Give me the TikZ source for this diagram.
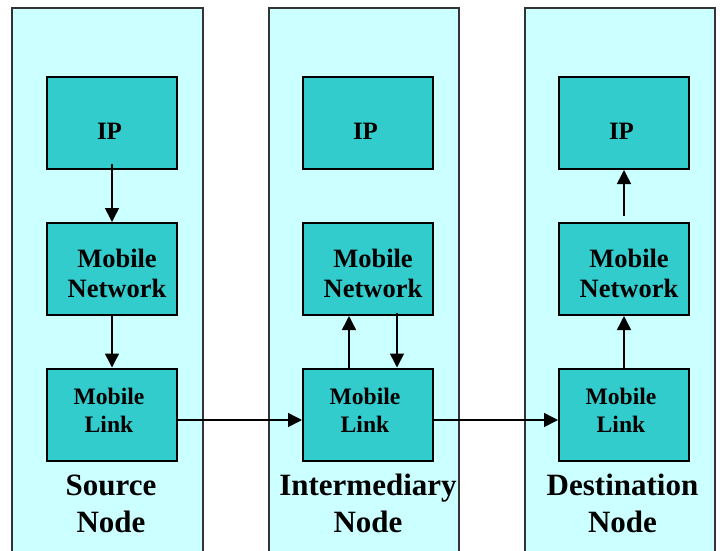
\documentclass[tikz,border=0pt]{standalone}
\usepackage{fontspec}
\setmainfont{Liberation Serif}
\usetikzlibrary{arrows.meta}
\definecolor{panelfill}{HTML}{CCFFFF}
\definecolor{boxfill}{HTML}{33CCCC}
\begin{document}
\begin{tikzpicture}[x=1pt,y=-1pt,
  panel/.style={draw=black!80, line width=1.5pt, fill=panelfill},
  layer/.style={draw=black, line width=2pt, fill=boxfill,
    minimum width=130pt, minimum height=92pt, inner sep=0pt},
  iptxt/.style={font=\bfseries\fontsize{25}{30}\selectfont, inner sep=0pt},
  nettxt/.style={font=\bfseries\fontsize{26.5}{30}\selectfont, align=center, inner sep=0pt},
  lnktxt/.style={font=\bfseries\fontsize{23.6}{28}\selectfont, align=center, inner sep=0pt},
  roletxt/.style={font=\bfseries\fontsize{31}{37}\selectfont, align=center, inner sep=0pt},
  flow/.style={line width=1.5pt, -{Triangle[length=14pt,width=14pt]}}]

\useasboundingbox (0,0) rectangle (720,550);

% the three hosts, running off the bottom edge
\begin{scope}
  \clip (0,0) rectangle (720,550);
  \draw[panel] (12,8) rectangle (203,570);
  \draw[panel] (269,8) rectangle (459,570);
  \draw[panel] (525,8) rectangle (715,570);
\end{scope}

% protocol layers of each host
\foreach \c/\x in {1/112, 2/368, 3/624} {
  \node[layer] (ip\c)  at (\x,123)   {};
  \node[layer] (net\c) at (\x,269)   {};
  \node[layer] (lnk\c) at (\x,414.5) {};
  \node[iptxt]  (ip\c t)  at ([xshift=-2.5pt,yshift=-8.75pt]ip\c.center) {IP};
  \node[nettxt] (net\c t) at ([xshift=5pt,yshift=-4pt]net\c.center) {Mobile\\Network};
  \node[lnktxt] (lnk\c t) at ([xshift=-3pt,yshift=4.5pt]lnk\c.center) {Mobile\\Link};
}

% host names
\node[roletxt] (src) at (111,503.5)   {Source\\Node};
\node[roletxt] (mid) at (368,503.5)   {Intermediary\\Node};
\node[roletxt] (dst) at (622.5,503.5) {Destination\\Node};

% source: down the stack
\draw[flow] ([yshift=6pt]ip1.south) -- (net1.north);
\draw[flow] (net1.south) -- (lnk1.north);

% intermediary: up to the network layer and back down
\draw[flow] ([xshift=-19pt]lnk2.north) -- ([xshift=-19pt]net2.south);
\draw[flow] ([xshift=29pt,yshift=3pt]net2.south) -- ([xshift=29pt]lnk2.north);

% destination: up the stack
\draw[flow] (lnk3.north) -- (net3.south);
\draw[flow] ([yshift=6pt]net3.north) -- (ip3.south);

% hops between hosts
\draw[flow] ([yshift=-5.5pt]lnk1.east) -- ([yshift=-5.5pt]lnk2.west);
\draw[flow] ([yshift=-5.5pt]lnk2.east) -- ([yshift=-5.5pt]lnk3.west);
\end{tikzpicture}
\end{document}
